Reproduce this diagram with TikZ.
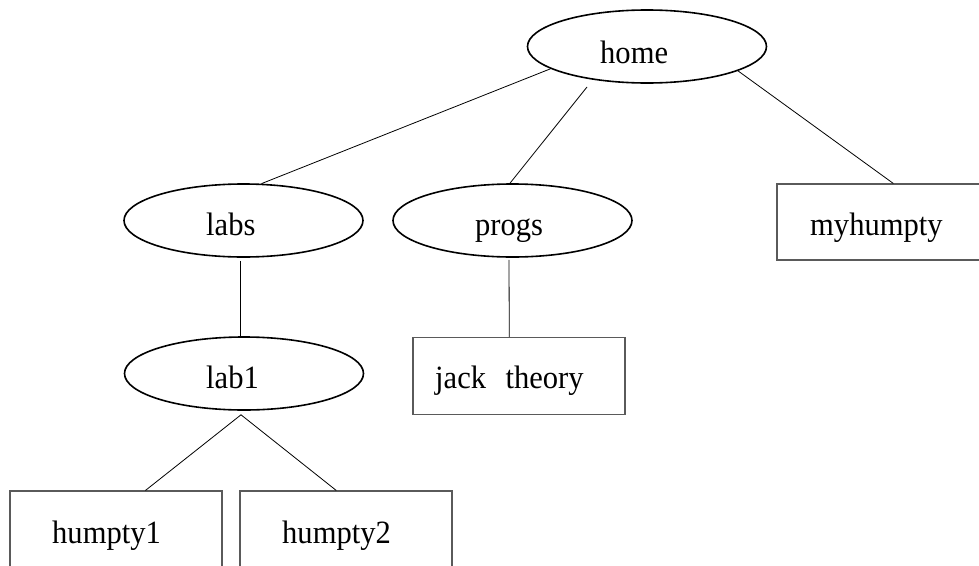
\documentclass[tikz,border=0pt]{standalone}
\usepackage{fontspec}
\setmainfont{Liberation Serif}[FakeStretch=0.94]
\usetikzlibrary{shapes.geometric}
\definecolor{boxgray}{HTML}{5A5A5A}
\tikzset{
  dirnode/.style={ellipse, draw=black, line width=1.6pt, minimum width=239pt, minimum height=73pt, inner sep=0pt},
  filebox/.style={rectangle, draw=boxgray, line width=1.1pt, minimum width=212pt, minimum height=77pt, inner sep=0pt},
  lbl/.style={anchor=base west, inner sep=0pt, font=\fontsize{32.5}{38}\selectfont},
  conn/.style={draw=black, line width=0.8pt}
}
\begin{document}
\begin{tikzpicture}[x=1pt, y=-1pt]
\clip (0,0) rectangle (979,565);
\fill[white] (0,0) rectangle (979,565);
% shapes
\node[dirnode] (home) at (647,46.5) {};
\node[dirnode] (labs) at (243.5,220.5) {};
\node[dirnode] (progs) at (512.5,220.5) {};
\node[dirnode] (lab1) at (244,373.5) {};
\node[filebox] (jack) at (519,376) {};
\node[filebox, minimum height=76pt] (my) at (883,222) {};
\node[filebox] (h1) at (116,529.5) {};
\node[filebox] (h2) at (346,529.5) {};
% texts
\node[lbl] (home-t) at (600,63) {home};
\node[lbl] (labs-t) at (206,235) {labs};
\node[lbl] (progs-t) at (475,235) {progs};
\node[lbl] (lab1-t) at (206,388) {lab1};
\node[lbl] (jack-t) at (435,388) {jack\hspace{0.6em}theory};
\node[lbl] (my-t) at (810,235) {myhumpty};
\node[lbl] (h1-t) at (52,543) {humpty1};
\node[lbl] (h2-t) at (282,543) {humpty2};
% connectors
\draw[conn] (home.193) -- (labs.64.4);
\draw[conn] ([xshift=-60pt,yshift=-40.5pt]home.center) -- ([xshift=-2.5pt]progs.north);
\draw[conn] (home.345.8) -- (my.75.3);
\draw[conn] ([xshift=-3.5pt,yshift=-3pt]labs.south) -- ([xshift=-4pt]lab1.north);
\draw[conn] ([xshift=-3.5pt,yshift=-2pt]progs.south) -- (jack.104.4);
\draw[conn] ([xshift=-3pt,yshift=-4pt]lab1.south) -- (h1.53.6);
\draw[conn] ([xshift=-3pt,yshift=-4pt]lab1.south) -- (h2.104.7);
\end{tikzpicture}
\end{document}
